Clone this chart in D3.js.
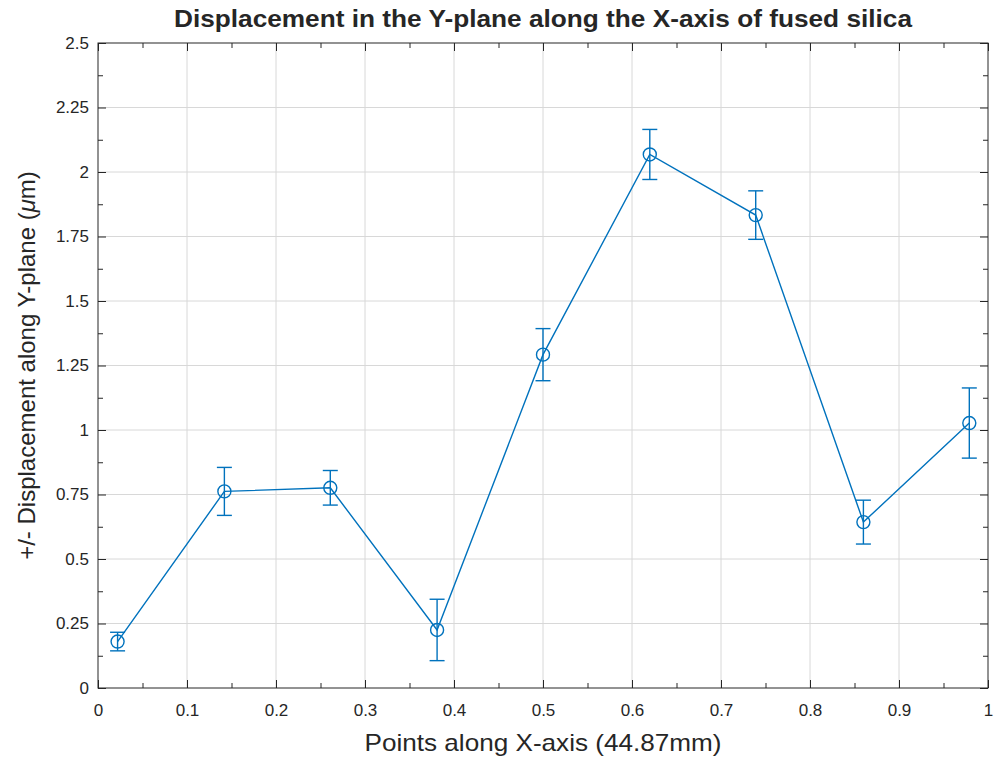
<!DOCTYPE html>
<html>
<head>
<meta charset="utf-8">
<script src="https://cdn.jsdelivr.net/npm/d3@7"></script>
<style>
  html, body { margin: 0; padding: 0; background: #fff; }
  svg { display: block; }
  text { font-family: "Liberation Sans", Arial, Helvetica, sans-serif; fill: #262626; }
</style>
</head>
<body>
<svg id="chart" width="995" height="759"></svg>
<script>
// Measurement points along the X-axis (normalised position)
const xPositions = [0.022, 0.142, 0.261, 0.381, 0.500, 0.620, 0.739, 0.860, 0.979];
// Mean displacement in the Y-plane (µm)
const displacement = [0.180, 0.762, 0.776, 0.225, 1.292, 2.068, 1.833, 0.643, 1.027];
// Half-width of each error bar (µm)
const errorHalf = [0.036, 0.093, 0.067, 0.119, 0.101, 0.097, 0.094, 0.085, 0.136];

const xTicks = [0, 0.1, 0.2, 0.3, 0.4, 0.5, 0.6, 0.7, 0.8, 0.9, 1];
const yTicks = [0, 0.25, 0.5, 0.75, 1, 1.25, 1.5, 1.75, 2, 2.25, 2.5];
const xMinorTicks = [0.05, 0.15, 0.25, 0.35, 0.45, 0.55, 0.65, 0.75, 0.85, 0.95];
const yMinorTicks = [0.125, 0.375, 0.625, 0.875, 1.125, 1.375, 1.625, 1.875, 2.125, 2.375];

const titleText = "Displacement in the Y-plane along the X-axis of fused silica";
const xLabelText = "Points along X-axis (44.87mm)";
const yLabelParts = ["+/- Displacement along Y-plane (", "\u03BC", "m)"];

const margin = { left: 98, right: 7, top: 43, bottom: 71 };
const W = 995, H = 759;
const iw = W - margin.left - margin.right;
const ih = H - margin.top - margin.bottom;

const axisColor = "#262626";
const lineColor = "#0072BD";

const svg = d3.select("#chart");
const g = svg.append("g").attr("transform", `translate(${margin.left},${margin.top})`);

const x = d3.scaleLinear().domain([0, 1]).range([0, iw]);
const y = d3.scaleLinear().domain([0, 2.5]).range([ih, 0]);

// Grid lines
const grid = g.append("g").attr("class", "grid");
grid.selectAll("line.vx").data(xTicks.slice(1, -1)).join("line")
  .attr("x1", d => x(d)).attr("x2", d => x(d))
  .attr("y1", 0).attr("y2", ih)
  .attr("stroke", "#d8d8d8").attr("stroke-width", 1);
grid.selectAll("line.hy").data(yTicks.slice(1, -1)).join("line")
  .attr("x1", 0).attr("x2", iw)
  .attr("y1", d => y(d)).attr("y2", d => y(d))
  .attr("stroke", "#d8d8d8").attr("stroke-width", 1);

// Axes with inward ticks on every side of the box
function styleAxis(sel) {
  sel.select(".domain").remove();
  sel.selectAll(".tick line").attr("stroke", axisColor).attr("stroke-width", 1);
  sel.selectAll("text").attr("fill", axisColor).style("font-size", "17px");
}

const axisBottomG = g.append("g").attr("transform", `translate(0,${ih})`)
  .call(d3.axisBottom(x).tickValues(xTicks).tickFormat(d3.format("~g")).tickSizeInner(-8).tickPadding(16));
styleAxis(axisBottomG);
const axisBottomMinorG = g.append("g").attr("transform", `translate(0,${ih})`)
  .call(d3.axisBottom(x).tickValues(xMinorTicks).tickFormat("").tickSizeInner(-5));
styleAxis(axisBottomMinorG);

const axisTopG = g.append("g")
  .call(d3.axisTop(x).tickValues(xTicks).tickFormat("").tickSizeInner(-8));
styleAxis(axisTopG);
const axisTopMinorG = g.append("g")
  .call(d3.axisTop(x).tickValues(xMinorTicks).tickFormat("").tickSizeInner(-5));
styleAxis(axisTopMinorG);

const axisLeftG = g.append("g")
  .call(d3.axisLeft(y).tickValues(yTicks).tickFormat(d3.format("~g")).tickSizeInner(-8).tickPadding(10));
styleAxis(axisLeftG);
axisLeftG.selectAll("text").attr("x", -9);
const axisLeftMinorG = g.append("g")
  .call(d3.axisLeft(y).tickValues(yMinorTicks).tickFormat("").tickSizeInner(-5));
styleAxis(axisLeftMinorG);

const axisRightG = g.append("g").attr("transform", `translate(${iw},0)`)
  .call(d3.axisRight(y).tickValues(yTicks).tickFormat("").tickSizeInner(-8));
styleAxis(axisRightG);
const axisRightMinorG = g.append("g").attr("transform", `translate(${iw},0)`)
  .call(d3.axisRight(y).tickValues(yMinorTicks).tickFormat("").tickSizeInner(-5));
styleAxis(axisRightMinorG);

// Box outline
g.append("rect").attr("x", 0).attr("y", 0).attr("width", iw).attr("height", ih)
  .attr("fill", "none").attr("stroke", axisColor).attr("stroke-width", 1);

// Data series
const data = xPositions.map((xv, i) => ({ x: xv, y: displacement[i], e: errorHalf[i] }));

g.append("path").datum(data)
  .attr("fill", "none").attr("stroke", lineColor).attr("stroke-width", 1.4)
  .attr("d", d3.line().x(d => x(d.x)).y(d => y(d.y)));

const capHalf = 7.5;
const eb = g.append("g").attr("stroke", lineColor).attr("stroke-width", 1.4).attr("fill", "none");
eb.selectAll("line.stem").data(data).join("line").attr("class", "stem")
  .attr("x1", d => x(d.x)).attr("x2", d => x(d.x))
  .attr("y1", d => y(d.y + d.e)).attr("y2", d => y(d.y - d.e));
eb.selectAll("line.capT").data(data).join("line").attr("class", "capT")
  .attr("x1", d => x(d.x) - capHalf).attr("x2", d => x(d.x) + capHalf)
  .attr("y1", d => y(d.y + d.e)).attr("y2", d => y(d.y + d.e));
eb.selectAll("line.capB").data(data).join("line").attr("class", "capB")
  .attr("x1", d => x(d.x) - capHalf).attr("x2", d => x(d.x) + capHalf)
  .attr("y1", d => y(d.y - d.e)).attr("y2", d => y(d.y - d.e));
eb.selectAll("circle").data(data).join("circle")
  .attr("cx", d => x(d.x)).attr("cy", d => y(d.y)).attr("r", 6.5);

// Titles and axis labels
svg.append("text")
  .attr("x", margin.left + iw / 2).attr("y", 27)
  .attr("text-anchor", "middle")
  .attr("textLength", 738).attr("lengthAdjust", "spacingAndGlyphs")
  .style("font-size", "24px").style("font-weight", "bold")
  .attr("fill", "#000")
  .text(titleText);

svg.append("text")
  .attr("x", margin.left + iw / 2).attr("y", 751)
  .attr("text-anchor", "middle")
  .attr("textLength", 357).attr("lengthAdjust", "spacingAndGlyphs")
  .style("font-size", "24px")
  .text(xLabelText);

const yl = svg.append("text")
  .attr("transform", `translate(35,${margin.top + ih / 2}) rotate(-90)`)
  .attr("text-anchor", "middle")
  .style("font-size", "24px");
yl.append("tspan").text(yLabelParts[0]);
yl.append("tspan").style("font-style", "italic").text(yLabelParts[1]);
yl.append("tspan").text(yLabelParts[2]);
</script>
</body>
</html>
